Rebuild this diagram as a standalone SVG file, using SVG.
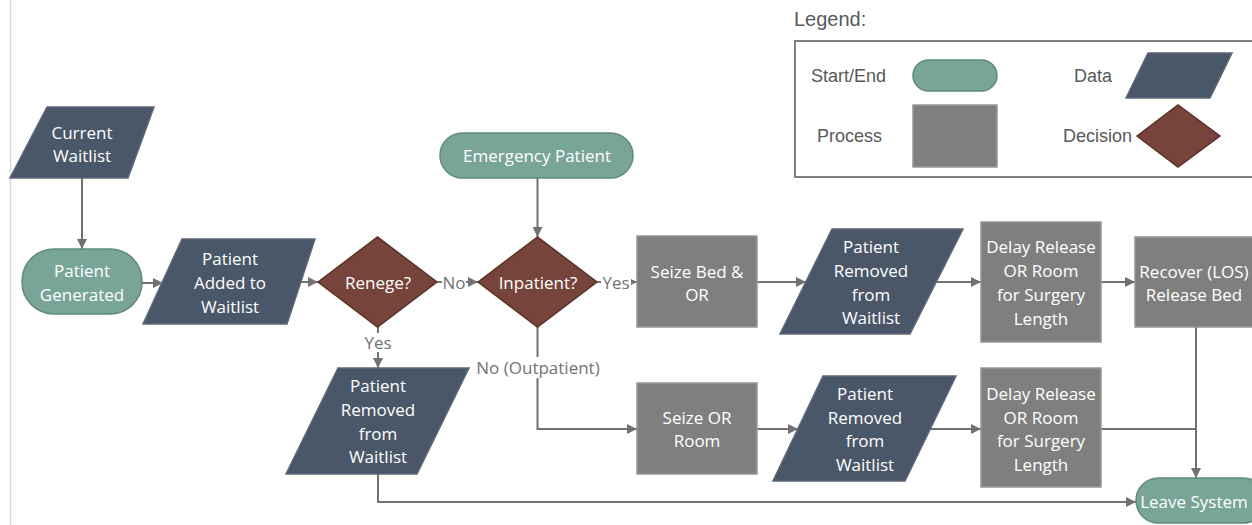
<svg xmlns="http://www.w3.org/2000/svg" width="1252" height="525" viewBox="0 0 1252 525">
<style>
.se{fill:#79a598;stroke:#62897d;stroke-width:1.5}
.da{fill:#4a5768;stroke:#5c6878;stroke-width:1.5}
.pr{fill:#7f7f7f;stroke:#969696;stroke-width:1.5}
.de{fill:#76443a;stroke:#5d3027;stroke-width:1.5}
.t{font-family:"Open Sans","Noto Sans",sans-serif;font-size:17px;fill:#ffffff;text-anchor:middle;dominant-baseline:central}
.lb{font-family:"Open Sans","Noto Sans",sans-serif;font-size:17px;fill:#737373;text-anchor:middle;dominant-baseline:central}
.lg{font-family:"Liberation Sans",Arial,sans-serif;font-size:18px;fill:#595959;dominant-baseline:central}
.c{fill:none;stroke:#717171;stroke-width:2}
</style>
<defs>
<marker id="ah" markerUnits="userSpaceOnUse" markerWidth="11" markerHeight="10" refX="10" refY="5" orient="auto">
<path d="M0,0 L10,5 L0,10 z" fill="#717171"/>
</marker>
</defs>
<rect width="1252" height="525" fill="#ffffff"/>
<line x1="10.5" y1="0" x2="10.5" y2="525" stroke="#d9d9d9" stroke-width="1.5"/>

<g id="legend">
<text x="794" y="19" class="lg" style="font-size:20px">Legend:</text>
<rect x="795" y="41" width="470" height="136" fill="none" stroke="#7f7f7f" stroke-width="2"/>
<text x="811" y="76" class="lg">Start/End</text>
<rect x="913" y="60" width="84" height="31" rx="15.5" class="se"/>
<text x="817" y="136" class="lg">Process</text>
<rect x="913" y="105" width="84" height="62" class="pr"/>
<text x="1074" y="76" class="lg">Data</text>
<polygon points="1148,53 1232,53 1210,98 1126,98" class="da"/>
<text x="1063" y="136" class="lg">Decision</text>
<polygon points="1137,136 1178,105 1220,136 1178,167" class="de"/>
</g>

<g id="connectors">
<line x1="82" y1="178" x2="82" y2="249" class="c" marker-end="url(#ah)"/>
<line x1="142" y1="283" x2="163" y2="283" class="c" marker-end="url(#ah)"/>
<line x1="301" y1="282" x2="318" y2="282" class="c" marker-end="url(#ah)"/>
<line x1="437" y1="282" x2="478" y2="282" class="c" marker-end="url(#ah)"/>
<line x1="537.5" y1="178" x2="537.5" y2="237" class="c" marker-end="url(#ah)"/>
<line x1="597" y1="282" x2="637" y2="282" class="c" marker-end="url(#ah)"/>
<line x1="378" y1="327" x2="378" y2="368" class="c" marker-end="url(#ah)"/>
<polyline points="537.5,327 537.5,429 637,429" class="c" marker-end="url(#ah)"/>
<line x1="757" y1="282" x2="806" y2="282" class="c" marker-end="url(#ah)"/>
<line x1="937" y1="282" x2="981" y2="282" class="c" marker-end="url(#ah)"/>
<line x1="1101" y1="282" x2="1135" y2="282" class="c" marker-end="url(#ah)"/>
<line x1="757" y1="429" x2="798" y2="429" class="c" marker-end="url(#ah)"/>
<line x1="930" y1="429" x2="981" y2="429" class="c" marker-end="url(#ah)"/>
<polyline points="1101,429 1196,429" class="c"/>
<line x1="1196" y1="327" x2="1196" y2="478" class="c" marker-end="url(#ah)"/>
<polyline points="378,474 378,502 1136,502" class="c" marker-end="url(#ah)"/>
<rect x="442" y="272" width="24" height="20" fill="#ffffff"/>
<text x="454" y="282" class="lb">No</text>
<rect x="601" y="272" width="30" height="20" fill="#ffffff"/>
<text x="616" y="282" class="lb">Yes</text>
<rect x="363" y="333" width="30" height="19" fill="#ffffff"/>
<text x="378" y="342" class="lb">Yes</text>
<rect x="473" y="357" width="130" height="21" fill="#ffffff"/>
<text x="538" y="367" class="lb">No (Outpatient)</text>
</g>

<g id="current-waitlist">
<polygon points="47,107 154,107 128,178 10,178" class="da"/>
<text x="82" class="t"><tspan x="82" y="132">Current</tspan><tspan x="82" y="155">Waitlist</tspan></text>
</g>
<g id="patient-generated">
<rect x="22" y="249" width="120" height="65" rx="32" class="se"/>
<text class="t"><tspan x="82" y="270">Patient</tspan><tspan x="82" y="294">Generated</tspan></text>
</g>
<g id="patient-added">
<polygon points="182,239 315,239 287,324 143,324" class="da"/>
<text class="t"><tspan x="230" y="258">Patient</tspan><tspan x="230" y="282">Added to</tspan><tspan x="230" y="306">Waitlist</tspan></text>
</g>
<g id="renege">
<polygon points="318,282 377.5,237 437,282 377.5,327" class="de"/>
<text x="378" y="282" class="t">Renege?</text>
</g>
<g id="emergency-patient">
<rect x="440" y="133" width="193" height="45" rx="22.5" class="se"/>
<text x="537" y="155" class="t">Emergency Patient</text>
</g>
<g id="inpatient">
<polygon points="478,282 537.5,237 597,282 537.5,327" class="de"/>
<text x="538" y="282" class="t">Inpatient?</text>
</g>
<g id="removed-renege">
<polygon points="338,368 469,368 417,474 286,474" class="da"/>
<text class="t"><tspan x="378" y="385">Patient</tspan><tspan x="378" y="409">Removed</tspan><tspan x="378" y="433">from</tspan><tspan x="378" y="456">Waitlist</tspan></text>
</g>
<g id="seize-bed-or">
<rect x="637" y="236" width="120" height="91" class="pr"/>
<text class="t"><tspan x="697" y="271">Seize Bed &amp;</tspan><tspan x="697" y="294">OR</tspan></text>
</g>
<g id="removed-inpatient">
<polygon points="832,229 963,229 910,334 780,334" class="da"/>
<text class="t"><tspan x="871" y="246">Patient</tspan><tspan x="871" y="270">Removed</tspan><tspan x="871" y="294">from</tspan><tspan x="871" y="317">Waitlist</tspan></text>
</g>
<g id="delay-inpatient">
<rect x="981" y="222" width="120" height="120" class="pr"/>
<text class="t"><tspan x="1041" y="246">Delay Release</tspan><tspan x="1041" y="270">OR Room</tspan><tspan x="1041" y="294">for Surgery</tspan><tspan x="1041" y="318">Length</tspan></text>
</g>
<g id="recover">
<rect x="1135" y="237" width="125" height="90" class="pr"/>
<text class="t"><tspan x="1194" y="271">Recover (LOS)</tspan><tspan x="1194" y="294">Release Bed</tspan></text>
</g>
<g id="seize-or-room">
<rect x="637" y="383" width="120" height="91" class="pr"/>
<text class="t"><tspan x="697" y="417">Seize OR</tspan><tspan x="697" y="440">Room</tspan></text>
</g>
<g id="removed-outpatient">
<polygon points="823,376 956,376 905,481 773,481" class="da"/>
<text class="t"><tspan x="865" y="393">Patient</tspan><tspan x="865" y="417">Removed</tspan><tspan x="865" y="440">from</tspan><tspan x="865" y="464">Waitlist</tspan></text>
</g>
<g id="delay-outpatient">
<rect x="981" y="368" width="120" height="119" class="pr"/>
<text class="t"><tspan x="1041" y="393">Delay Release</tspan><tspan x="1041" y="417">OR Room</tspan><tspan x="1041" y="440">for Surgery</tspan><tspan x="1041" y="464">Length</tspan></text>
</g>
<g id="leave-system">
<rect x="1136" y="478" width="130" height="45" rx="22.5" class="se"/>
<text x="1194" y="501" class="t">Leave System</text>
</g>
</svg>
